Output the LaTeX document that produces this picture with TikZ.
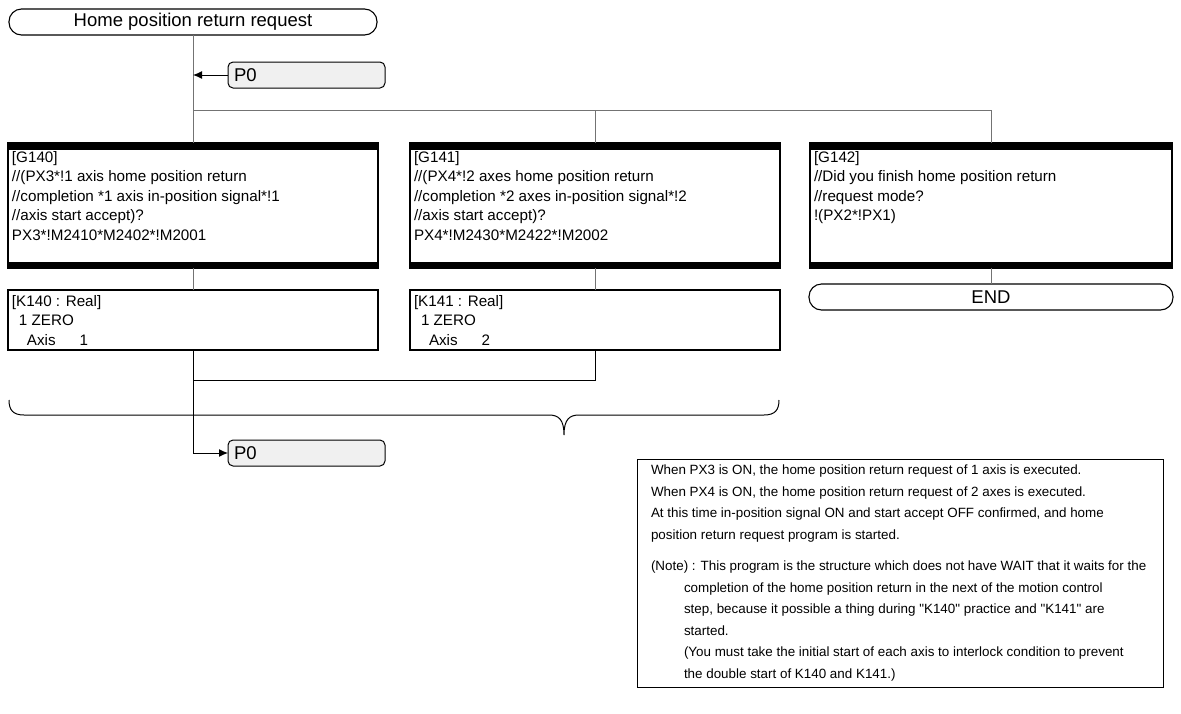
\documentclass[tikz,border=0pt]{standalone}
\usepackage{fontspec}
\setmainfont{Liberation Sans}[Ligatures=TeXOff]
\usetikzlibrary{arrows.meta}
\newcommand{\bigfont}{\fontsize{18.5}{22}\selectfont}
\newcommand{\bodyfont}{\fontsize{15.2}{19.6}\selectfont}
\newcommand{\notefont}{\fontsize{13.4}{21.5}\selectfont}
\newcommand{\ind}{\hspace*{33pt}}
\begin{document}
\begin{tikzpicture}[x=1pt,y=-1pt,
  every node/.style={inner sep=0pt,outer sep=0pt},
  term/.style={draw=black,line width=1.1pt,fill=white,rounded corners=12.5pt,minimum height=26pt,font=\bigfont},
  pbox/.style={draw=black,line width=1pt,fill=black!6,rounded corners=5pt,minimum height=26pt,text width=145pt,inner xsep=6pt,align=left,font=\bigfont},
  gbox/.style={draw=black,line width=1.4pt,fill=white,minimum height=125pt,anchor=north west},
  kbox/.style={draw=black,line width=1.2pt,fill=white,minimum height=60pt,anchor=north west},
  notebox/.style={draw=black,line width=1pt,fill=white,anchor=north west},
  txt/.style={anchor=north west,align=left,font=\bodyfont},
  ntxt/.style={anchor=north west,align=left,font=\notefont},
  link/.style={draw=black!55,line width=1pt},
  flow/.style={draw=black,line width=1pt},
  arr/.style={-{Latex[length=9pt,width=8pt]}}
]
\useasboundingbox (0,0) rectangle (1181,713);

% terminals and jump boxes
\node[term,minimum width=368pt,anchor=north west] (title) at (9,9) {Home position return request};
\node[pbox,anchor=north west] (p0a) at (228,62) {P0};

% G boxes
\node[gbox,minimum width=370pt] (g140) at (8,143) {};
\node[gbox,minimum width=370pt] (g141) at (410,143) {};
\node[gbox,minimum width=362pt] (g142) at (810,143) {};
\foreach \b in {g140,g141,g142}{
  \fill (\b.north west) rectangle ([yshift=-7pt]\b.north east);
  \fill ([yshift=6.5pt]\b.south west) rectangle (\b.south east);
}
\node[txt] (g140t) at (12,151) {[G140]\\//(PX3*!1 axis home position return\\//completion *1 axis in-position signal*!1\\//axis start accept)?\\PX3*!M2410*M2402*!M2001};
\node[txt] (g141t) at (414,151) {[G141]\\//(PX4*!2 axes home position return\\//completion *2 axes in-position signal*!2\\//axis start accept)?\\PX4*!M2430*M2422*!M2002};
\node[txt] (g142t) at (814,151) {[G142]\\//Did you finish home position return\\//request mode?\\!(PX2*!PX1)};

% K boxes
\node[kbox,minimum width=370pt] (k140) at (8,290) {};
\node[kbox,minimum width=370pt] (k141) at (410,290) {};
\node[txt] (k140t) at (12,295) {[K140 : Real]\\\hspace*{7pt}1 ZERO\\\hspace*{15pt}Axis\hspace{24pt}1};
\node[txt] (k141t) at (414,295) {[K141 : Real]\\\hspace*{7pt}1 ZERO\\\hspace*{15pt}Axis\hspace{24pt}2};

\node[term,minimum width=364pt,anchor=north west] (endn) at (809,284) {END};
\node[pbox,anchor=north west] (p0b) at (228,440) {P0};

% note
\node[notebox,minimum width=526pt,minimum height=228pt] (note) at (637,459) {};
\node[ntxt] (notet1) at (651,465) {When PX3 is ON, the home position return request of 1 axis is executed.\\
When PX4 is ON, the home position return request of 2 axes is executed.\\
At this time in-position signal ON and start accept OFF confirmed, and home\\
position return request program is started.};
\node[ntxt] (notet2) at (651,561) {(Note) : This program is the structure which does not have WAIT that it waits for the\\
\ind completion of the home position return in the next of the motion control\\
\ind step, because it possible a thing during "K140" practice and "K141" are\\
\ind started.\\
\ind (You must take the initial start of each axis to interlock condition to prevent\\
\ind the double start of K140 and K141.)};

% connectors
\coordinate (br) at (193,110);
\coordinate (jn) at (193,380);
\draw[link] (title.south) -- (g140.north);
\draw[link] (br) -- (br -| g142.north) -- (g142.north);
\draw[link] (br -| g141.north) -- (g141.north);
\draw[flow,arr] (p0a.west) -- (p0a.west -| title.south);
\draw[link] (g140.south) -- (k140.north);
\draw[link] (g141.south) -- (k141.north);
\draw[link] (g142.south) -- (endn.north);
\draw[flow] (k141.south) |- (jn);
\draw[flow,arr] (k140.south) |- (p0b.west);

% brace
\draw[flow] (9,400) .. controls (9,410) and (13,415) .. (24,415) -- (549,415)
  .. controls (559,415) and (564,420) .. (564,435)
  .. controls (564,420) and (569,415) .. (579,415) -- (764,415)
  .. controls (775,415) and (779,410) .. (779,400);
\end{tikzpicture}
\end{document}
